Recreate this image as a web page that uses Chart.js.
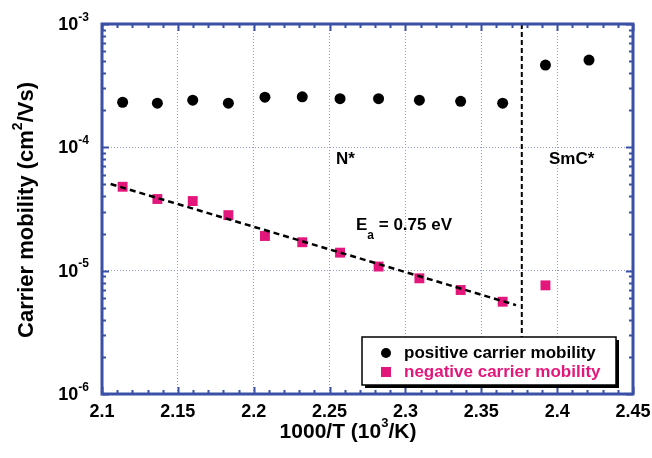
<!DOCTYPE html>
<html>
<head>
<meta charset="utf-8">
<script src="https://cdn.jsdelivr.net/npm/chart.js@4.4.1/dist/chart.umd.min.js"></script>
<style>
  html, body { margin: 0; padding: 0; background: #fff; }
  canvas { display: block; }
</style>
</head>
<body>
<canvas id="graph" width="652" height="458"></canvas>
<script>
// Data
const positiveTemp = [2.1136, 2.1365, 2.1598, 2.1833, 2.2074, 2.232, 2.2569, 2.2823, 2.3092, 2.3364, 2.3641, 2.3923, 2.421];
const positiveMobility = [2.32e-4, 2.28e-4, 2.41e-4, 2.28e-4, 2.55e-4, 2.57e-4, 2.48e-4, 2.48e-4, 2.41e-4, 2.36e-4, 2.28e-4, 4.65e-4, 5.1e-4];
const negativeTemp = [2.1136, 2.1365, 2.1598, 2.1833, 2.2074, 2.232, 2.2569, 2.2823, 2.3092, 2.3364, 2.3641, 2.3923];
const negativeMobility = [4.79e-5, 3.81e-5, 3.67e-5, 2.82e-5, 1.91e-5, 1.70e-5, 1.40e-5, 1.08e-5, 8.67e-6, 6.97e-6, 5.60e-6, 7.60e-6];
// Arrhenius fit (Ea = 0.75 eV) and the N* / SmC* transition
const fitTemp = [2.1057, 2.3729];
const fitMobility = [5.04e-5, 5.26e-6];
const transitionTemp = [2.3767, 2.3767];
const transitionMobility = [1e-3, 2.9e-6];
// Axis labels
const xTickValues = [2.1, 2.15, 2.2, 2.25, 2.3, 2.35, 2.4, 2.45];
const xTickLabels = ['2.1', '2.15', '2.2', '2.25', '2.3', '2.35', '2.4', '2.45'];
const yTickExponents = [-6, -5, -4, -3];

// Styles
const BLUE = '#3a4fa6';
const GRID = '#8e98dc';
const PINK = '#e3177b';
const FONT = 'Arial, "Liberation Sans", Helvetica, sans-serif';

function boldFont(size) {
  return 'bold ' + size + 'px ' + FONT;
}

function toPoints(xs, ys) {
  return xs.map((x, i) => ({ x: x, y: ys[i] }));
}

// Draw a run of text pieces, some raised (sup) or lowered (sub)
//    align: 'left' | 'right' | 'center'
function drawRich(ctx, parts, x, y, size, smallSize, align) {
  let total = 0;
  parts.forEach((p) => {
    ctx.font = boldFont(p.sup || p.sub ? smallSize : size);
    p.w = ctx.measureText(p.t).width;
    total += p.w;
  });
  let cx = x;
  if (align === 'right') cx = x - total;
  if (align === 'center') cx = x - total / 2;
  ctx.textAlign = 'left';
  ctx.textBaseline = 'middle';
  parts.forEach((p) => {
    ctx.font = boldFont(p.sup || p.sub ? smallSize : size);
    let dy = 0;
    if (p.sup) dy = -size * 0.42;
    if (p.sub) dy = size * 0.62;
    ctx.fillText(p.t, cx, y + dy);
    cx += p.w;
  });
}

// Frame, inward ticks, labels, annotations and legend
const decorPlugin = {
  id: 'decor',
  afterDraw(chart) {
    const ctx = chart.ctx;
    const { left, right, top, bottom } = chart.chartArea;
    const xs = chart.scales.x;
    const ys = chart.scales.y;

    ctx.save();
    ctx.strokeStyle = BLUE;
    ctx.lineWidth = 2;
    ctx.beginPath();
    // x ticks, every 0.01 with a longer one every 0.05
    for (let i = 0; i <= 35; i++) {
      const px = Math.round(xs.getPixelForValue(2.1 + i * 0.01)) + 0.5;
      const len = i % 5 === 0 ? 7 : 4;
      ctx.moveTo(px, bottom); ctx.lineTo(px, bottom - len);
      ctx.moveTo(px, top); ctx.lineTo(px, top + len);
    }
    // log ticks on y
    for (let e = -6; e <= -3; e++) {
      for (let k = 1; k <= 9; k++) {
        if (e === -3 && k > 1) break;
        const py = Math.round(ys.getPixelForValue(k * Math.pow(10, e))) + 0.5;
        const len = k === 1 ? 7 : 4;
        ctx.moveTo(left, py); ctx.lineTo(left + len, py);
        ctx.moveTo(right, py); ctx.lineTo(right - len, py);
      }
    }
    ctx.stroke();
    ctx.lineWidth = 3;
    ctx.strokeRect(left, top, right - left, bottom - top);

    // tick labels
    ctx.fillStyle = '#000';
    ctx.font = boldFont(18);
    ctx.textAlign = 'center';
    ctx.textBaseline = 'middle';
    xTickValues.forEach((v, i) => {
      ctx.fillText(xTickLabels[i], xs.getPixelForValue(v), bottom + 18);
    });
    yTickExponents.forEach((e) => {
      const py = ys.getPixelForValue(Math.pow(10, e));
      drawRich(ctx, [{ t: '10' }, { t: String(e), sup: true }], 89, py + 1, 18, 12, 'right');
    });

    // axis titles
    drawRich(ctx, [{ t: '1000/T (10' }, { t: '3', sup: true }, { t: '/K)' }], 348, 432, 21, 13, 'center');
    ctx.save();
    ctx.translate(27, 210);
    ctx.rotate(-Math.PI / 2);
    drawRich(ctx, [{ t: 'Carrier mobility (cm' }, { t: '2', sup: true }, { t: '/Vs)' }], 0, 0, 22, 14, 'center');
    ctx.restore();

    // annotations
    drawRich(ctx, [{ t: 'N*' }], 336, 159, 17, 12, 'left');
    drawRich(ctx, [{ t: 'SmC*' }], 549, 159, 17, 12, 'left');
    drawRich(ctx, [{ t: 'E' }, { t: 'a', sub: true }, { t: ' = 0.75 eV' }], 356, 225, 17, 12, 'left');

    // legend box with drop shadow
    const lx = 362, ly = 337, lw = 254, lh = 48;
    ctx.fillStyle = '#000';
    ctx.fillRect(lx + 3, ly + 3, lw, lh);
    ctx.fillStyle = '#fff';
    ctx.fillRect(lx, ly, lw, lh);
    ctx.strokeStyle = '#000';
    ctx.lineWidth = 1.5;
    ctx.strokeRect(lx, ly, lw, lh);

    ctx.fillStyle = '#000';
    ctx.beginPath();
    ctx.arc(386, 353, 5, 0, Math.PI * 2);
    ctx.fill();
    drawRich(ctx, [{ t: 'positive carrier mobility' }], 404, 353, 17, 12, 'left');
    ctx.fillStyle = PINK;
    ctx.fillRect(381, 367, 10, 10);
    drawRich(ctx, [{ t: 'negative carrier mobility' }], 404, 372, 17, 12, 'left');
    ctx.restore();
  }
};

const chart = new Chart(document.querySelector('#graph').getContext('2d'), {
  type: 'scatter',
  data: {
    datasets: [
      {
        label: 'transition',
        data: toPoints(transitionTemp, transitionMobility),
        showLine: true,
        borderColor: '#000',
        borderWidth: 2,
        borderDash: [5, 3],
        pointRadius: 0,
      },
      {
        label: 'fit',
        data: toPoints(fitTemp, fitMobility),
        showLine: true,
        borderColor: '#000',
        borderWidth: 2.5,
        borderDash: [6, 4],
        pointRadius: 0,
      },
      {
        label: 'positive carrier mobility',
        data: toPoints(positiveTemp, positiveMobility),
        pointStyle: 'circle',
        pointRadius: 5.5,
        backgroundColor: '#000',
        borderColor: '#000',
        borderWidth: 0,
      },
      {
        label: 'negative carrier mobility',
        data: toPoints(negativeTemp, negativeMobility),
        pointStyle: 'rect',
        pointRadius: 7,
        backgroundColor: PINK,
        borderColor: PINK,
        borderWidth: 0,
      },
    ],
  },
  options: {
    responsive: false,
    animation: false,
    layout: { padding: { left: 102, right: 19, top: 24, bottom: 64 } },
    plugins: {
      legend: { display: false },
      tooltip: { enabled: false },
    },
    scales: {
      x: {
        type: 'linear',
        min: 2.1,
        max: 2.45,
        ticks: { display: false, stepSize: 0.05 },
        grid: { color: GRID, lineWidth: 1, drawTicks: false },
        border: { display: false, dash: [1, 2] },
      },
      y: {
        type: 'logarithmic',
        min: 1e-6,
        max: 1e-3,
        afterBuildTicks: (scale) => {
          scale.ticks = yTickExponents.map((e) => ({ value: Math.pow(10, e) }));
        },
        ticks: { display: false },
        grid: { color: GRID, lineWidth: 1, drawTicks: false },
        border: { display: false, dash: [1, 2] },
      },
    },
  },
  plugins: [decorPlugin],
});
</script>
</body>
</html>
